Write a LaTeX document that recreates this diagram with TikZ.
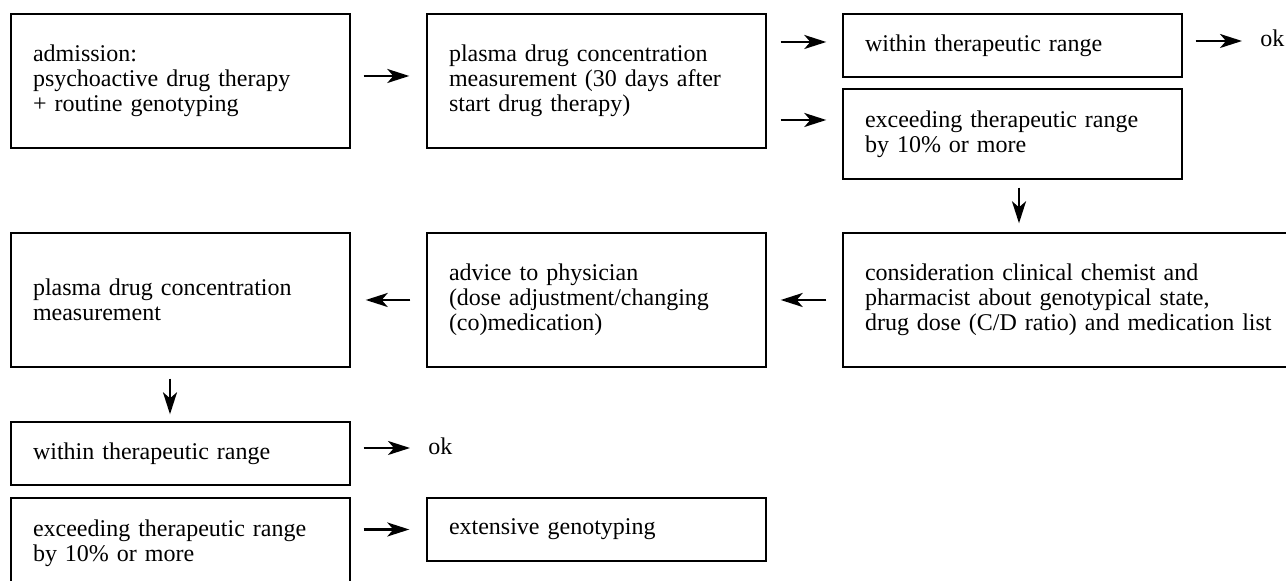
\documentclass[tikz,border=0pt]{standalone}
\usepackage{fontspec}
\setmainfont{Liberation Serif}
\usetikzlibrary{arrows.meta,calc}
\begin{document}
\begin{tikzpicture}[x=0.5pt,y=-0.5pt,
  bx/.style={draw, line width=0.7pt, inner xsep=11pt, inner ysep=0pt,
    text width=147.5pt, align=left, font=\fontsize{12}{12.5}\selectfont},
  wide/.style={text width=208pt},
  lbl/.style={inner sep=0pt, font=\fontsize{12}{12.5}\selectfont},
  arr/.style={-{Stealth[length=11pt,width=7pt,inset=3pt]}, line width=1.2pt}]
\useasboundingbox (0,0) rectangle (1286,581);
\clip (0,0) rectangle (1286,581);
% nodes
\node[bx, minimum height=67pt] (A) at (180.5,81) {admission:\\psychoactive drug therapy\\+ routine genotyping};
\node[bx, minimum height=67pt] (B) at (596.5,81) {plasma drug concentration\\measurement (30 days after\\start drug therapy)};
\node[bx, minimum height=31.5pt] (C1) at (1012.5,45.5) {within therapeutic range};
\node[bx, minimum height=45pt] (C2) at (1012.5,134) {exceeding therapeutic range\\by 10\% or more};
\node[lbl, anchor=base west] (okC) at (1260,47) {ok};
\node[bx, wide, minimum height=67pt] (D) at (1073,300) {consideration clinical chemist and\\pharmacist about genotypical state,\\drug dose (C/D ratio) and medication list};
\node[bx, minimum height=67pt] (E) at (596.5,300) {advice to physician\\(dose adjustment/changing\\(co)medication)};
\node[bx, minimum height=67pt] (F) at (180.5,300) {plasma drug concentration\\measurement};
\node[bx, minimum height=31.5pt] (G) at (180.5,453.5) {within therapeutic range};
\node[lbl, anchor=base west] (okG) at (428,455) {ok};
\node[bx, minimum height=45pt] (H) at (180.5,543) {exceeding therapeutic range\\by 10\% or more};
\node[bx, minimum height=31.5pt] (I) at (596.5,529.5) {extensive genotyping};
% connectors
\draw[arr, shorten <=6.5pt, shorten >=8.5pt] ($(A.east)+(0,-5)$) -- ($(B.west)+(0,-5)$);
\draw[arr, shorten <=7pt, shorten >=8pt] ($(B.east|-C1.west)+(0,-3.5)$) -- ($(C1.west)+(0,-3.5)$);
\draw[arr, shorten <=7pt, shorten >=8pt] ($(B.east|-C2.west)+(0,-14)$) -- ($(C2.west)+(0,-14)$);
\draw[arr, shorten <=6.5pt, shorten >=9pt] ($(C1.east)+(0,-4.5)$) -- ($(okC.west|-C1.east)+(0,-4.5)$);
\draw[arr, shorten <=4pt, shorten >=4.5pt] ($(C2.south)+(6.5,0)$) -- ($(C2.south|-D.north)+(6.5,0)$);
\draw[arr, shorten <=8pt, shorten >=7pt] (D.west) -- (E.east);
\draw[arr, shorten <=8pt, shorten >=7.5pt] (E.west) -- (F.east);
\draw[arr, shorten <=5.5pt, shorten >=3.5pt] ($(F.south)+(-10.5,0)$) -- ($(G.north)+(-10.5,0)$);
\draw[arr, shorten <=6.5pt, shorten >=9pt] ($(G.east)+(0,-5.5)$) -- ($(okG.west|-G.east)+(0,-5.5)$);
\draw[arr, shorten <=6.5pt, shorten >=8.5pt] (H.east|-I.west) -- (I.west);
\end{tikzpicture}
\end{document}
